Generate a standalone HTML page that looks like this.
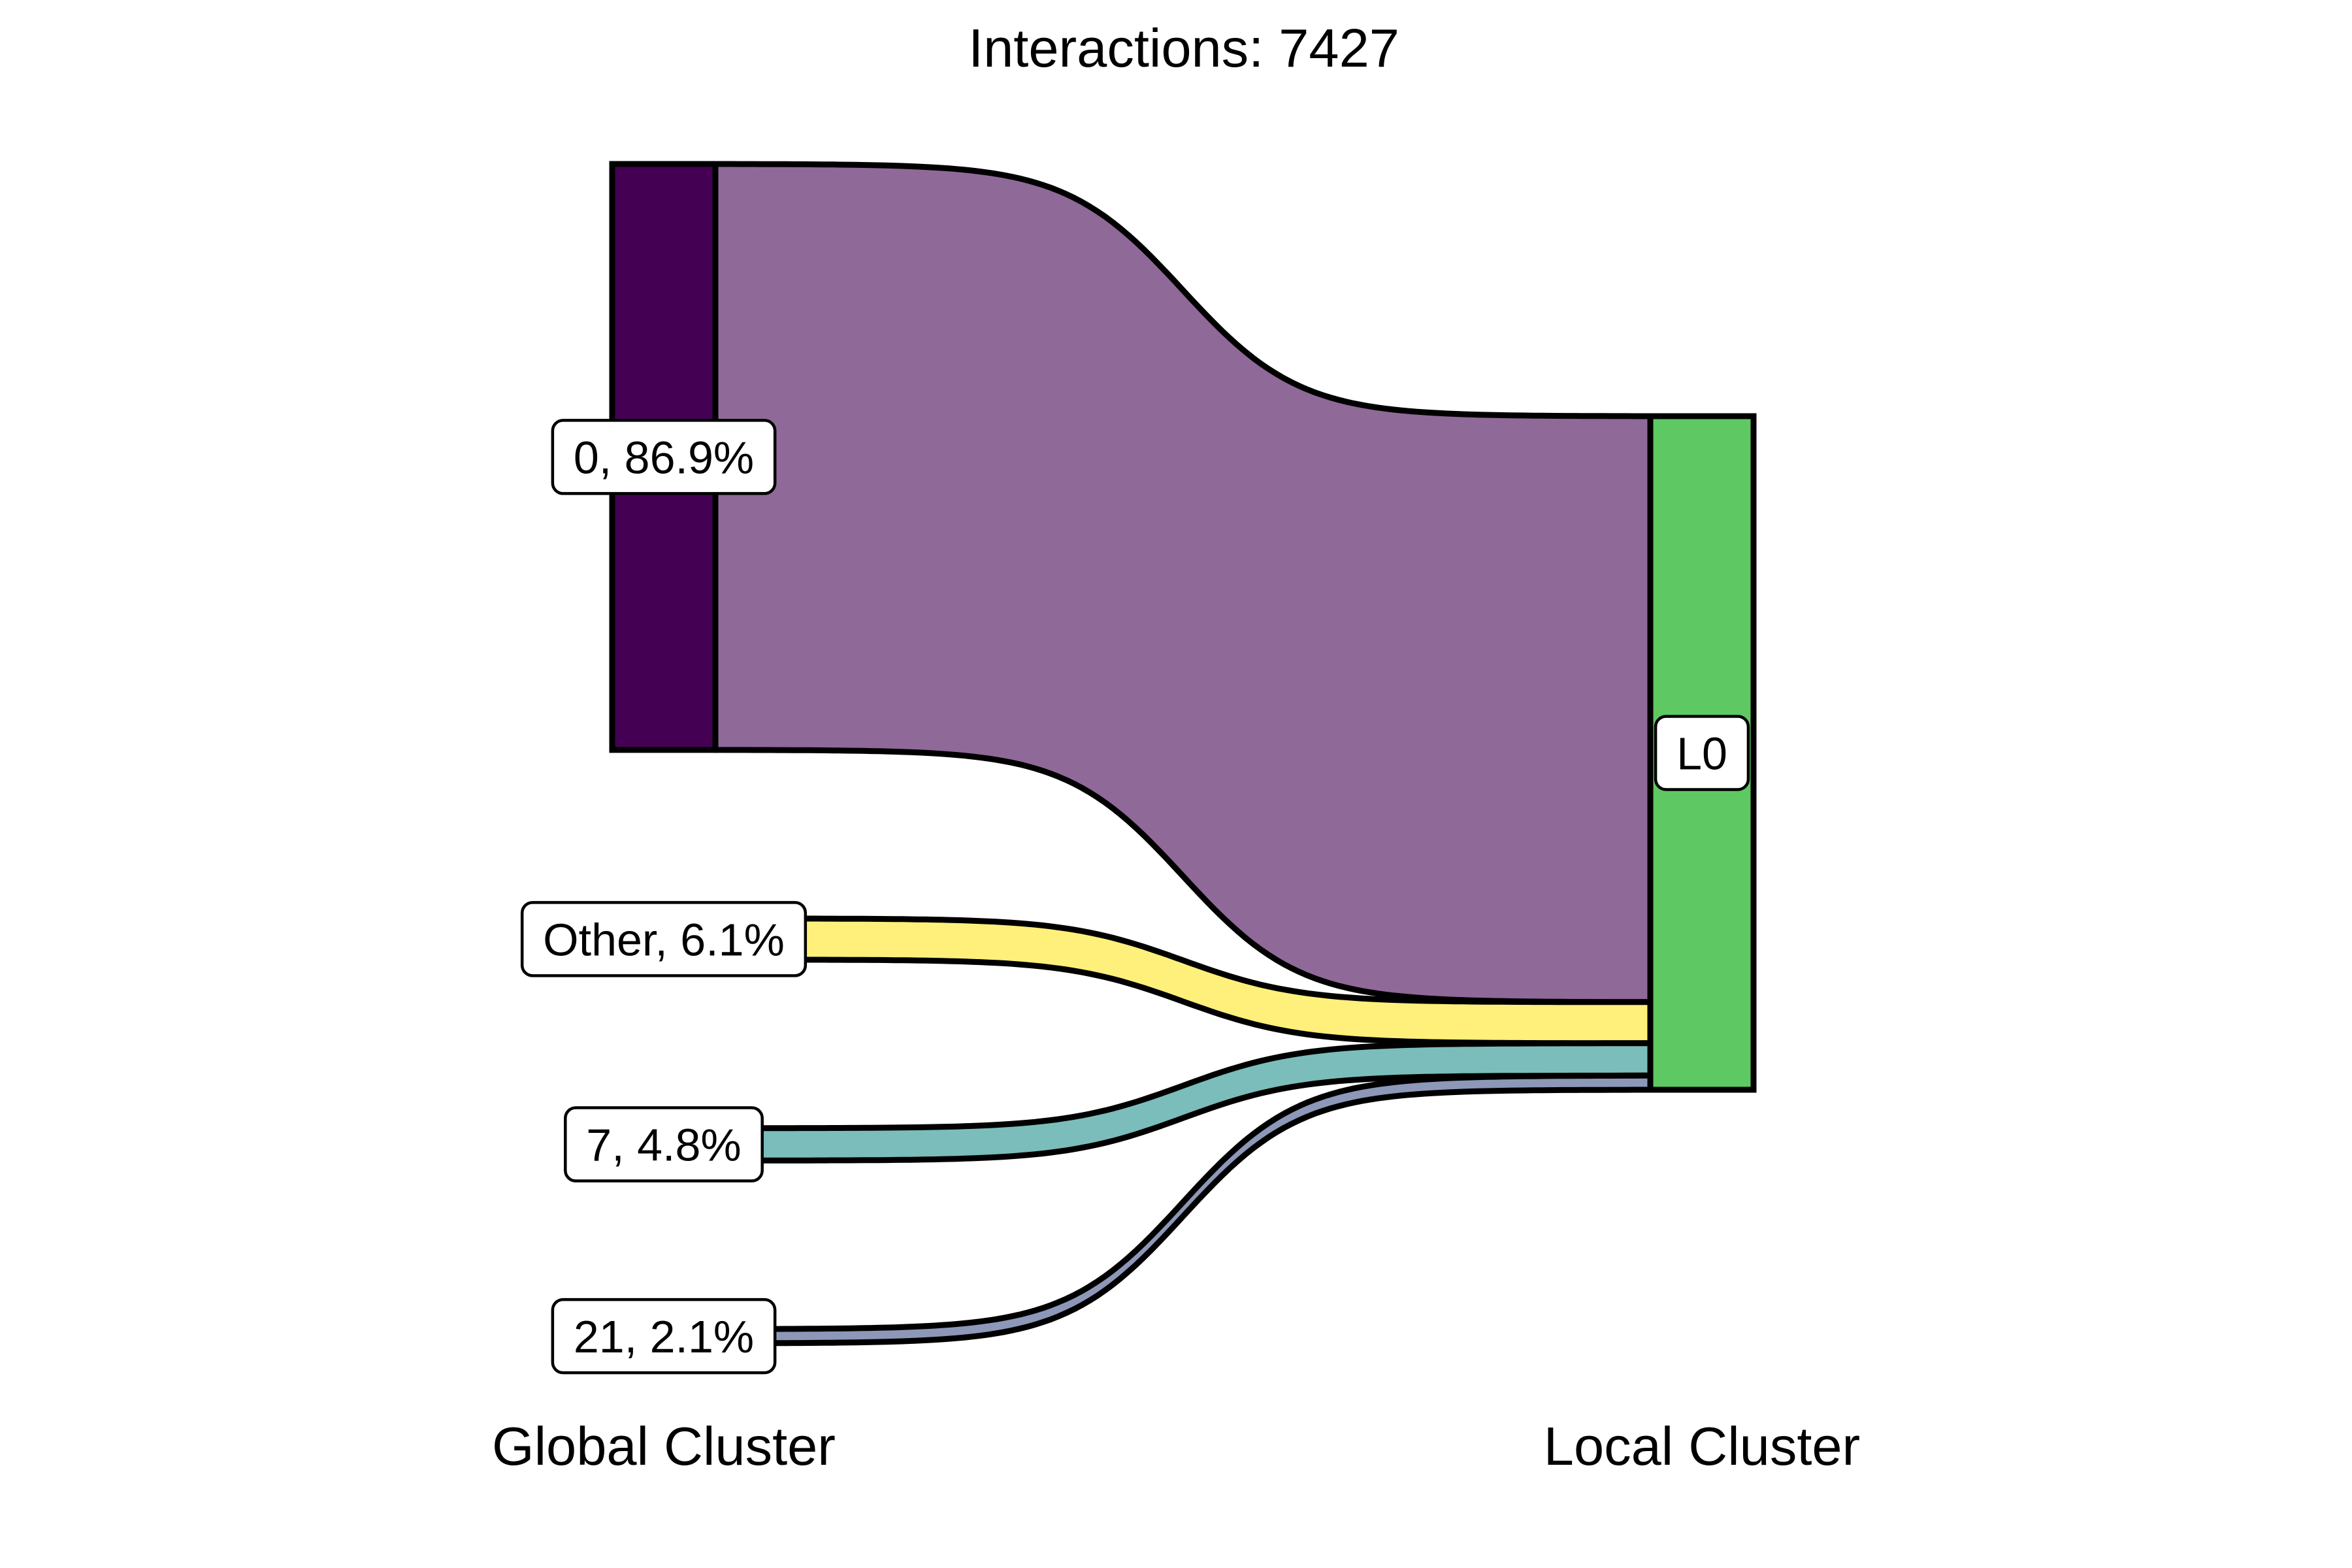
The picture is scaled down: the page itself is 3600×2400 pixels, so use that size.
<!DOCTYPE html>
<html><head><meta charset="utf-8"><style>
html,body{margin:0;padding:0;background:#fff;}
svg{display:block;font-family:"Liberation Sans",Arial,sans-serif;}
</style></head><body>
<svg id="chart" width="3600" height="2400" viewBox="0 0 3600 2400">
<text x="1812" y="102" font-size="83" text-anchor="middle">Interactions: 7427</text>
<text x="1016" y="2242" font-size="83" text-anchor="middle">Global Cluster</text>
<text x="2605" y="2242" font-size="83" text-anchor="middle">Local Cluster</text>
<g id="flows"></g>
<g id="nodes"></g>
<g id="labels"></g>
</svg>
<script>
const sources = ["0", "Other", "7", "21"];
const shares = [86.9, 6.1, 4.8, 2.1];
const targetLabel = "L0";
const nodeColors = ["#440154", "#fde725", "#35928e", "#3e4a89"];
const flowColors = ["#8f6998", "#fef07a", "#7bbdba", "#8d98b8"];

const NS = "http://www.w3.org/2000/svg";
const total = shares.reduce((a, b) => a + b, 0);
const pxPerUnit = 1031 / total;
const srcX0 = 937, srcX1 = 1095, tgtX0 = 2526, tgtX1 = 2684;
const srcTop = 251, gap = 258, tgtTop = 637;
function h(v) { return v * pxPerUnit; }

const flowsG = document.getElementById("flows");
const nodesG = document.getElementById("nodes");
const labelsG = document.getElementById("labels");

function mk(tag, attrs, parent) {
  const e = document.createElementNS(NS, tag);
  for (const k in attrs) e.setAttribute(k, attrs[k]);
  parent.appendChild(e);
  return e;
}
const K = 16;
function sig(t) {
  const a = 1 / (1 + Math.exp(K * 0.5)), b = 1 / (1 + Math.exp(-K * 0.5));
  return (1 / (1 + Math.exp(-K * (t - 0.5))) - a) / (b - a);
}
function curve(ya, yb, reverse) {
  const pts = [];
  const N = 120;
  for (let j = 0; j <= N; j++) {
    const t = j / N;
    pts.push([srcX1 + (tgtX0 - srcX1) * t, ya + (yb - ya) * sig(t)]);
  }
  if (reverse) pts.reverse();
  return pts.map(p => p[0].toFixed(1) + "," + p[1].toFixed(1)).join(" L");
}

let sy = srcTop, ty = tgtTop;
const srcPos = [];
shares.forEach((v, i) => {
  const hh = h(v);
  srcPos.push([sy, hh]);
  const d = "M" + curve(sy, ty, false) + " L" + curve(sy + hh, ty + hh, true) + " Z";
  const p = mk("path", { d: d, fill: flowColors[i], stroke: "#000", "stroke-width": 9, "stroke-linejoin": "round" }, flowsG);
  
  
  const r = mk("rect", { x: srcX0, y: sy, width: srcX1 - srcX0, height: hh, fill: nodeColors[i], stroke: "#000", "stroke-width": 9 }, nodesG);
  
  
  sy += hh + gap;
  ty += hh;
});
const tr = mk("rect", { x: tgtX0, y: tgtTop, width: tgtX1 - tgtX0, height: ty - tgtTop, fill: "#5ec962", stroke: "#000", "stroke-width": 9 }, nodesG);



function label(text, cx, cy, name) {
  const g = mk("g", {}, labelsG);
  
  
  const rect = mk("rect", { fill: "#fff", stroke: "#000", "stroke-width": 4.5, rx: 16, ry: 16 }, g);
  const t = mk("text", { x: cx, y: cy + 25, "font-size": 70, "text-anchor": "middle" }, g);
  t.textContent = text;
  const w = t.getComputedTextLength() + 64;
  rect.setAttribute("x", cx - w / 2);
  rect.setAttribute("y", cy - 56);
  rect.setAttribute("width", w);
  rect.setAttribute("height", 112);
}
shares.forEach((v, i) => {
  const [y, hh] = srcPos[i];
  label(sources[i] + ", " + v.toFixed(1) + "%", (srcX0 + srcX1) / 2, y + hh / 2, 'label-' + sources[i].toLowerCase());
});
label(targetLabel, (tgtX0 + tgtX1) / 2, (tgtTop + ty) / 2, 'label-l0');
</script>
</body></html>
